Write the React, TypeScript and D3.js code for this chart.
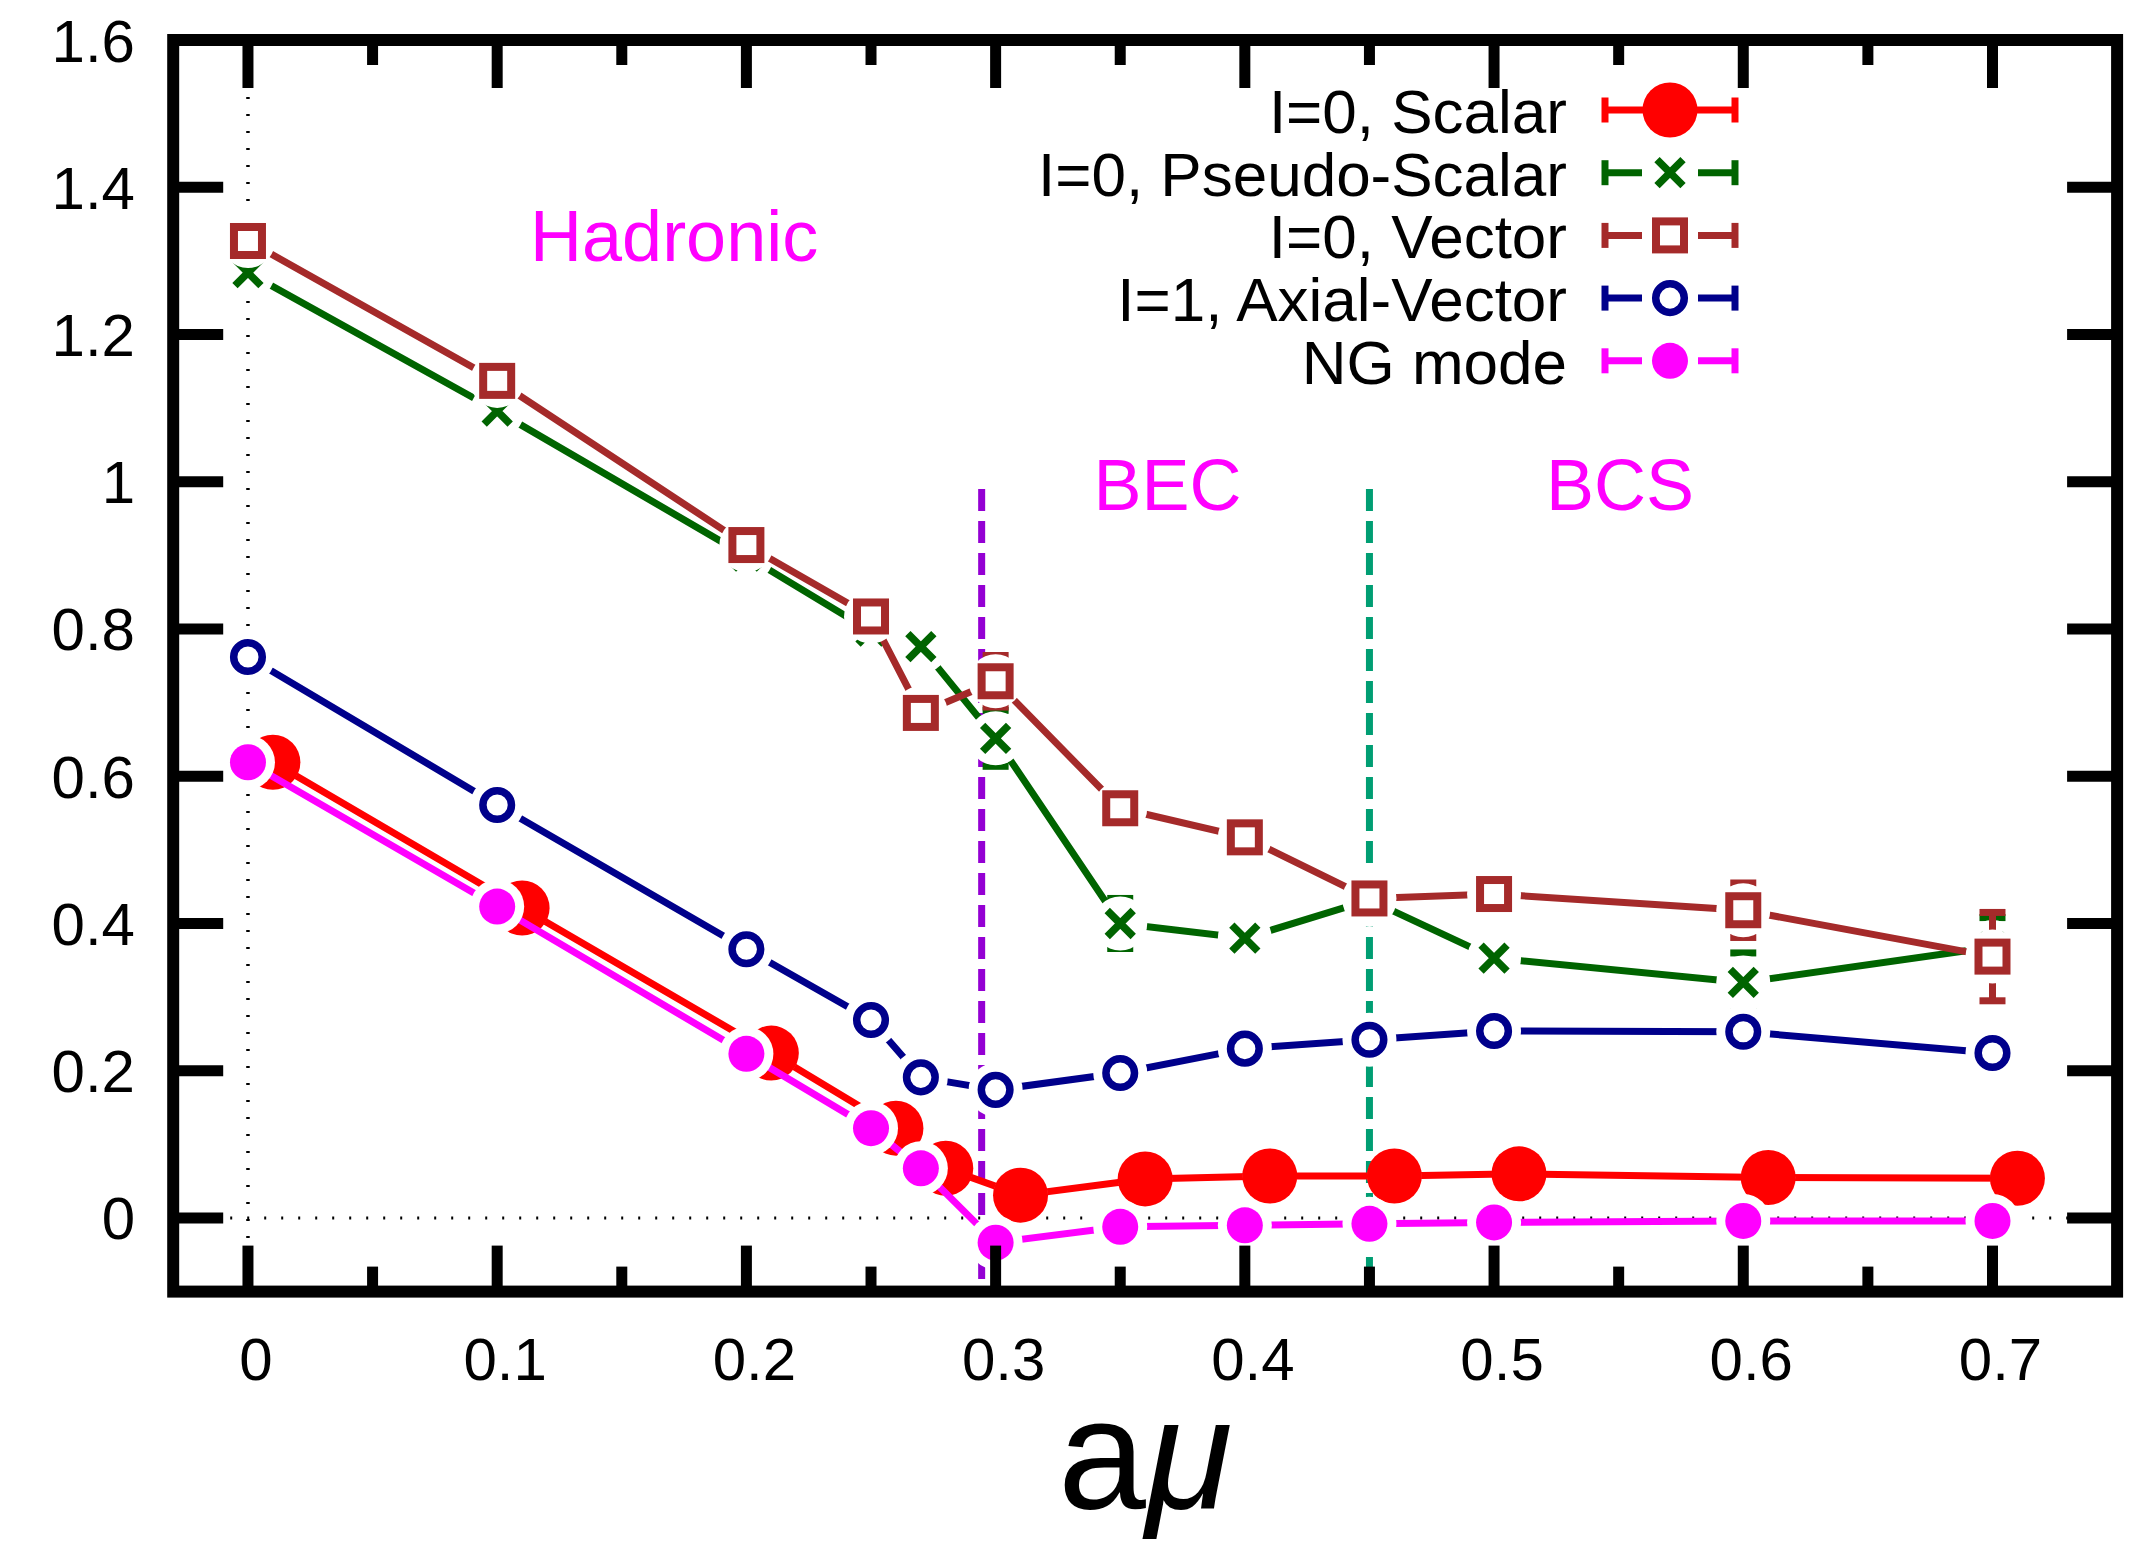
import React, { useEffect } from "react";
import * as d3 from "d3";

// ---------- data ----------
const muValues = [0, 0.1, 0.2, 0.25, 0.27, 0.3, 0.35, 0.4, 0.45, 0.5, 0.6, 0.7];
const scalarMu = [0.01, 0.11, 0.21, 0.26, 0.28, 0.31, 0.36, 0.41, 0.46, 0.51, 0.61, 0.71];
const scalarMass = [0.619, 0.421, 0.224, 0.122, 0.0675, 0.031, 0.053, 0.057, 0.057, 0.06, 0.055, 0.054];
const scalarErr = [0.005, 0.005, 0.005, 0.005, 0.005, 0.005, 0.005, 0.005, 0.005, 0.005, 0.005, 0.005];
const pseudoMass = [1.284, 1.096, 0.899, 0.797, 0.776, 0.6515, 0.4, 0.38, 0.432, 0.353, 0.32, 0.368];
const pseudoErr = [0.01, 0.01, 0.01, 0.01, 0.01, 0.038, 0.034, 0.01, 0.01, 0.01, 0.04, 0.04];
const vectorMass = [1.327, 1.137, 0.914, 0.817, 0.686, 0.729, 0.5565, 0.517, 0.434, 0.44, 0.418, 0.355];
const vectorErr = [0.01, 0.01, 0.01, 0.01, 0.01, 0.035, 0.01, 0.01, 0.01, 0.01, 0.037, 0.06];
const axialMass = [0.762, 0.561, 0.365, 0.269, 0.191, 0.174, 0.197, 0.23, 0.242, 0.254, 0.253, 0.224];
const axialErr = [0.005, 0.005, 0.005, 0.005, 0.005, 0.005, 0.005, 0.005, 0.005, 0.005, 0.005, 0.005];
const ngMass = [0.619, 0.423, 0.223, 0.122, 0.0675, -0.0335, -0.012, -0.01, -0.008, -0.006, -0.004, -0.004];
const ngErr = [0.005, 0.005, 0.005, 0.005, 0.005, 0.005, 0.005, 0.005, 0.005, 0.005, 0.005, 0.005];

const seriesNames = ["I=0, Scalar", "I=0, Pseudo-Scalar", "I=0, Vector", "I=1, Axial-Vector", "NG mode"];
const seriesColors = ["#FF0000", "#006400", "#A52A2A", "#00008B", "#FF00FF"];
const seriesMarkers = ["bigdot", "cross", "square", "ring", "dot"];

const xMajorTicks = [0, 0.1, 0.2, 0.3, 0.4, 0.5, 0.6, 0.7];
const xTickLabels = ["0", "0.1", "0.2", "0.3", "0.4", "0.5", "0.6", "0.7"];
const xMinorTicks = [0.05, 0.15, 0.25, 0.35, 0.45, 0.55, 0.65];
const yMajorTicks = [0, 0.2, 0.4, 0.6, 0.8, 1.0, 1.2, 1.4, 1.6];
const yTickLabels = ["0", "0.2", "0.4", "0.6", "0.8", "1", "1.2", "1.4", "1.6"];

const phaseLabels = ["Hadronic", "BEC", "BCS"];
const phaseLabelX = [0.171, 0.369, 0.5505];
const phaseLabelY = [1.3, 0.962, 0.962];
const boundaryX = [0.2944, 0.45];
const boundaryColors = ["#9400D3", "#009E73"];
const boundaryTop = 0.99;

// ---------- layout ----------
const W = 2146;
const H = 1547;
const x = d3.scaleLinear().domain([-0.03, 0.75]).range([173.2, 2117.1]);
const y = d3.scaleLinear().domain([-0.1, 1.6]).range([1291.6, 40]);
const FONT = "'Liberation Sans', Arial, Helvetica, sans-serif";
const HALO = 27;

function Marker({ kind, color, cx, cy }: { kind: string; color: string; cx: number; cy: number }) {
  if (kind === "bigdot") return <circle cx={cx} cy={cy} r={27.5} fill={color} />;
  if (kind === "dot") return <circle cx={cx} cy={cy} r={18} fill={color} />;
  if (kind === "ring") return <circle cx={cx} cy={cy} r={14.3} fill="none" stroke={color} strokeWidth={7.5} />;
  if (kind === "square")
    return <rect x={cx - 14} y={cy - 14} width={28} height={28} fill="none" stroke={color} strokeWidth={8} />;
  const a = 13;
  return (
    <path
      d={`M${cx - a},${cy - a}L${cx + a},${cy + a}M${cx + a},${cy - a}L${cx - a},${cy + a}`}
      stroke={color}
      strokeWidth={7.5}
      fill="none"
    />
  );
}

type Series = { xs: number[]; ys: number[]; errs: number[]; color: string; marker: string; halo: boolean };

export default function App() {
  useEffect(() => {
    document.body.style.margin = "0";
  }, []);

  const series: Series[] = [
    { xs: scalarMu, ys: scalarMass, errs: scalarErr, color: seriesColors[0], marker: seriesMarkers[0], halo: true },
    { xs: muValues, ys: pseudoMass, errs: pseudoErr, color: seriesColors[1], marker: seriesMarkers[1], halo: true },
    { xs: muValues, ys: vectorMass, errs: vectorErr, color: seriesColors[2], marker: seriesMarkers[2], halo: true },
    { xs: muValues, ys: axialMass, errs: axialErr, color: seriesColors[3], marker: seriesMarkers[3], halo: true },
    { xs: muValues, ys: ngMass, errs: ngErr, color: seriesColors[4], marker: seriesMarkers[4], halo: true },
  ];

  const line = d3
    .line<[number, number]>()
    .x((d) => x(d[0]))
    .y((d) => y(d[1]));

  const frameL = x(-0.03);
  const frameR = x(0.75);
  const frameT = y(1.6);
  const frameB = y(-0.1);

  const legendRowY = (i: number) => 110 + i * 62.7;
  const legendTextX = 1567;
  const legendL = 1605;
  const legendR = 1735;
  const legendC = 1670;

  return (
    <svg
      width={W}
      height={H}
      viewBox={`0 0 ${W} ${H}`}
      style={{ position: "absolute", left: 0, top: 0, background: "#fff" }}
      fontFamily={FONT}
    >
      <rect x={0} y={0} width={W} height={H} fill="#fff" />

      {/* zero axes (dotted) */}
      <line x1={frameL + 6} x2={frameR - 6} y1={y(0)} y2={y(0)} stroke="#000" strokeWidth={3} strokeDasharray="2,15" />
      <line x1={x(0)} x2={x(0)} y1={frameT + 6} y2={frameB - 6} stroke="#000" strokeWidth={3.5} strokeDasharray="2,15" />

      {/* phase boundaries */}
      {boundaryX.map((bx, i) => (
        <line
          key={"b" + i}
          x1={x(bx)}
          x2={x(bx)}
          y1={y(boundaryTop)}
          y2={frameB - 6}
          stroke={boundaryColors[i]}
          strokeWidth={7}
          strokeDasharray="22,10"
        />
      ))}

      {/* series */}
      {series.map((s, si) => {
        const pts: [number, number][] = s.xs.map((xv, i) => [xv, s.ys[i]]);
        return (
          <g key={"s" + si}>
            <path d={line(pts) || ""} fill="none" stroke={s.color} strokeWidth={7} />
            {pts.map((p, i) => {
              const cx = x(p[0]);
              const top = y(p[1] + s.errs[i]);
              const bot = y(p[1] - s.errs[i]);
              return (
                <g key={"e" + i} stroke={s.color} strokeWidth={7}>
                  <line x1={cx} x2={cx} y1={top} y2={bot} />
                  <line x1={cx - 13} x2={cx + 13} y1={top} y2={top} />
                  <line x1={cx - 13} x2={cx + 13} y1={bot} y2={bot} />
                </g>
              );
            })}
            {s.halo &&
              pts.map((p, i) => <circle key={"h" + i} cx={x(p[0])} cy={y(p[1])} r={HALO} fill="#fff" />)}
            {pts.map((p, i) => (
              <Marker key={"m" + i} kind={s.marker} color={s.color} cx={x(p[0])} cy={y(p[1])} />
            ))}
          </g>
        );
      })}

      {/* phase labels */}
      {phaseLabels.map((t, i) => (
        <text
          key={"pl" + i}
          x={x(phaseLabelX[i])}
          y={y(phaseLabelY[i])}
          fontSize={72}
          fill="#FF00FF"
          textAnchor="middle"
        >
          {t}
        </text>
      ))}

      {/* legend */}
      {seriesNames.map((name, i) => {
        const ry = legendRowY(i);
        const col = seriesColors[i];
        const full = seriesMarkers[i] === "bigdot";
        return (
          <g key={"lg" + i}>
            <text x={legendTextX} y={ry + 23} fontSize={62} textAnchor="end" fill="#000">
              {name}
            </text>
            {full ? (
              <line x1={legendL} x2={legendR} y1={ry} y2={ry} stroke={col} strokeWidth={7} />
            ) : (
              <g stroke={col} strokeWidth={7}>
                <line x1={legendL} x2={legendC - 28} y1={ry} y2={ry} />
                <line x1={legendC + 28} x2={legendR} y1={ry} y2={ry} />
              </g>
            )}
            <line x1={legendL} x2={legendL} y1={ry - 12.5} y2={ry + 12.5} stroke={col} strokeWidth={7} />
            <line x1={legendR} x2={legendR} y1={ry - 12.5} y2={ry + 12.5} stroke={col} strokeWidth={7} />
            <Marker kind={seriesMarkers[i]} color={col} cx={legendC} cy={ry} />
          </g>
        );
      })}

      {/* ticks */}
      <g stroke="#000" strokeWidth={11}>
        {xMajorTicks.map((t) => (
          <g key={"xt" + t}>
            <line x1={x(t)} x2={x(t)} y1={frameB} y2={frameB - 46} />
            <line x1={x(t)} x2={x(t)} y1={frameT} y2={frameT + 48} />
          </g>
        ))}
        {xMinorTicks.map((t) => (
          <g key={"xm" + t}>
            <line x1={x(t)} x2={x(t)} y1={frameB} y2={frameB - 25} />
            <line x1={x(t)} x2={x(t)} y1={frameT} y2={frameT + 25} />
          </g>
        ))}
        {yMajorTicks.map((t) => (
          <g key={"yt" + t}>
            <line x1={frameL} x2={frameL + 50} y1={y(t)} y2={y(t)} />
            <line x1={frameR} x2={frameR - 50} y1={y(t)} y2={y(t)} />
          </g>
        ))}
      </g>

      {/* frame */}
      <rect
        x={frameL}
        y={frameT}
        width={frameR - frameL}
        height={frameB - frameT}
        fill="none"
        stroke="#000"
        strokeWidth={12}
      />

      {/* tick labels */}
      {yMajorTicks.map((t, i) => (
        <text key={"yl" + i} x={135} y={y(t) + 21.5} fontSize={60} textAnchor="end" fill="#000">
          {yTickLabels[i]}
        </text>
      ))}
      {xMajorTicks.map((t, i) => (
        <text key={"xl" + i} x={x(t) + 8} y={1380} fontSize={60} textAnchor="middle" fill="#000">
          {xTickLabels[i]}
        </text>
      ))}

      {/* axis label */}
      <text x={(frameL + frameR) / 2} y={1508} fontSize={158} textAnchor="middle" fill="#000">
        a<tspan fontStyle="italic">μ</tspan>
      </text>
    </svg>
  );
}
